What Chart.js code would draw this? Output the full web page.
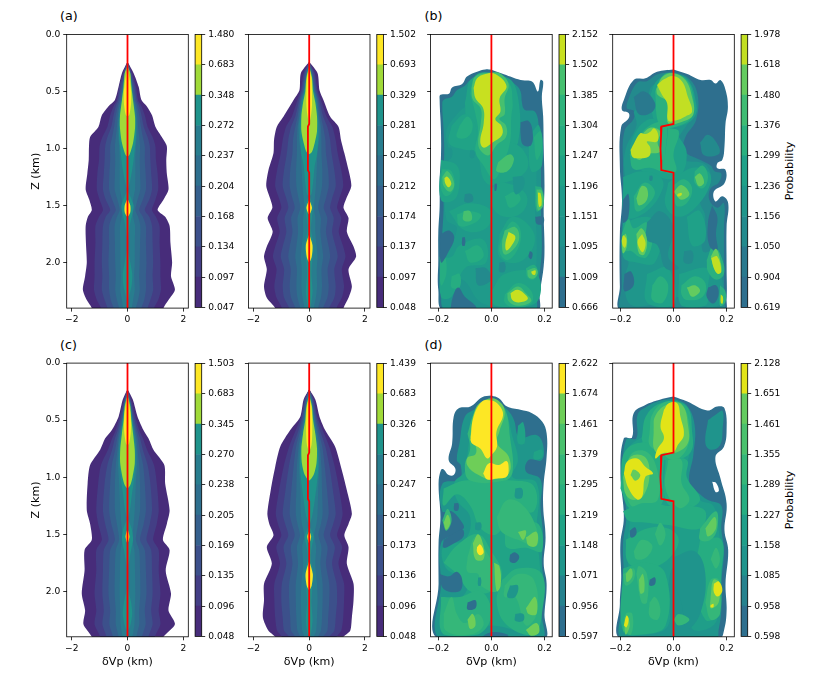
<!DOCTYPE html>
<html><head><meta charset="utf-8">
<script src="https://cdn.jsdelivr.net/npm/chart.js@4"></script>
<style>
html,body{margin:0;padding:0;background:#fff;width:830px;height:692px;overflow:hidden}
canvas{position:absolute}
.t{position:absolute;font-family:"DejaVu Sans";color:#000;white-space:nowrap;line-height:1}
</style></head><body>
<div class="t" style="left:60px;top:9.5px;font-size:12.7px">(a)</div>
<div class="t" style="left:424.5px;top:9.5px;font-size:12.7px">(b)</div>
<div class="t" style="left:60px;top:338.5px;font-size:12.7px">(c)</div>
<div class="t" style="left:424.5px;top:338.5px;font-size:12.7px">(d)</div>
<div class="t" style="left:790px;top:171px;font-size:11.1px;transform:translate(-50%,-50%) rotate(-90deg)">Probability</div>
<div class="t" style="left:790px;top:499.5px;font-size:11.1px;transform:translate(-50%,-50%) rotate(-90deg)">Probability</div>
<script>
// ---------- tick labels ----------
const zTicks=[0,0.5,1,1.5,2];
const xTicksWide=[-2,0,2];
const xTicksNarrow=[-0.2,0,0.2];
const cbA1=['0.047','0.097','0.134','0.168','0.204','0.237','0.272','0.348','0.683','1.480'];
const cbA2=['0.048','0.097','0.137','0.174','0.212','0.245','0.281','0.329','0.693','1.502'];
const cbB1=['0.666','1.009','1.095','1.151','1.196','1.247','1.304','1.385','1.502','2.152'];
const cbB2=['0.619','0.904','1.050','1.156','1.236','1.299','1.376','1.480','1.618','1.978'];
const cbC1=['0.048','0.096','0.135','0.169','0.205','0.238','0.270','0.345','0.683','1.503'];
const cbC2=['0.048','0.096','0.136','0.173','0.211','0.247','0.281','0.326','0.683','1.439'];
const cbD1=['0.597','0.956','1.071','1.148','1.219','1.295','1.379','1.461','1.674','2.622'];
const cbD2=['0.598','0.958','1.085','1.158','1.227','1.289','1.355','1.461','1.651','2.128'];
// ---------- band colours, low to high ----------
const colsA=['#472c7a','#433e85','#3c508b','#35608d','#2e6f8e','#287d8e','#1f938b','#a0da39','#fde725'];
const colsB1=['#2e6f8e','#238a8d','#1f948c','#1f9a8a','#20a386','#26ad81','#2fb47c','#46c06f','#c8e020'];
const colsB2=['#2e6f8e','#29798e','#238a8d','#1f968b','#1fa188','#2ab07f','#3fbc73','#63cb5f','#c2df23'];
const colsD1=['#2e6f8e','#26828e','#1f968b','#20a386','#2ab07f','#35b779','#4ac16d','#6ece58','#fde725'];
const colsD2=['#2e6f8e','#26828e','#1f948c','#1f9e89','#26ad81','#35b779','#4ac16d','#63cb5f','#e2e418'];
// ---------- reference models (red lines) ----------
const flatX=[0,0], flatZ=[0,2.4];
const kinkX=[0,0,-0.045,-0.047,-0.049,-0.047,-0.046,0,0];
const kinkZ=[0,0.785,0.808,0.9,1.0,1.1,1.19,1.212,2.4];

// ---------- panel a, left ----------
const a1Z=[.24,.34,.46,.575,.63,.71,.81,.9,.98,1.1,1.22,1.36,1.45,1.54,1.6,1.68,1.83,2.0,2.12,2.24,2.33,2.4];
const a1L=[0,-.2,-.32,-.45,-.68,-.92,-1.04,-1.34,-1.38,-1.39,-1.44,-1.5,-1.37,-1.28,-1.42,-1.5,-1.49,-1.46,-1.52,-1.6,-1.46,-1.28];
const a1R=[0,.22,.4,.5,.69,.88,1.0,1.23,1.41,1.39,1.41,1.47,1.29,1.08,1.35,1.51,1.54,1.6,1.56,1.7,1.47,1.29];
const a1C1=[0,.16,.3,.38,.5,.62,.72,.9,1.0,1.02,1.08,1.1,1.0,.88,1.02,1.15,1.15,1.18,1.18,1.2,1.1,.95];
const a1C2=[0,.13,.25,.33,.42,.5,.58,.72,.8,.82,.85,.88,.78,.62,.78,.88,.9,.92,.9,.92,.82,.72];
const a1C3=[0,.1,.2,.28,.35,.42,.48,.55,.62,.62,.65,.66,.55,.42,.55,.66,.66,.68,.66,.66,.6,.5];
const a1C4=[0,.08,.17,.24,.3,.35,.38,.42,.45,.44,.45,.46,.36,.28,.38,.46,.45,.44,.42,.44,.38,.3];
const a1C5=[0,.06,.14,.22,.27,.31,.33,.33,.3,.28,.28,.27,.2,.17,.2,.27,.26,.26,.24,.26,.2,.16];
const a1TealZ=[[.26,.34,.46,.575,.71,.81,.9,1.0,1.1,1.2,1.3,1.36],[1.36,1.42,1.5,1.55,1.65,1.8],[1.85,2.0,2.1,2.2,2.3,2.35]];
const a1TealW=[[0,.1,.16,.2,.28,.3,.3,.26,.22,.16,.08,0],[0,.1,.22,.2,.1,0],[0,.1,.17,.15,.05,0]];
const a1LimeZ=[[.28,.34,.46,.58,.72,.82,.95,1.05,1.07]];
const a1LimeW=[[0,.1,.14,.2,.27,.27,.2,.08,0]];
const a1GoldZ=[[.3,.38,.5,.6,.7,.72],[1.44,1.5,1.56,1.6]];
const a1GoldW=[[0,.07,.13,.13,.07,0],[0,.1,.1,0]];
// ---------- panel a, right ----------
const a2Z=[.24,.34,.49,.575,.72,.81,.925,1.04,1.19,1.33,1.44,1.52,1.61,1.73,1.86,1.95,2.06,2.21,2.31,2.4];
const a2L=[0,-.3,-.35,-.56,-.92,-1.16,-1.26,-1.28,-1.46,-1.54,-1.4,-1.32,-1.49,-1.31,-1.52,-1.62,-1.52,-1.62,-1.52,-1.22];
const a2R=[0,.3,.37,.51,.75,1.05,1.14,1.26,1.41,1.51,1.33,1.23,1.41,1.35,1.59,1.68,1.41,1.53,1.41,1.23];
const a2C1=[0,.2,.3,.42,.62,.83,.95,1.02,1.15,1.22,1.08,1.0,1.15,1.06,1.22,1.3,1.17,1.25,1.17,.98];
const a2C2=[0,.16,.26,.36,.5,.65,.75,.8,.9,.95,.82,.75,.88,.82,.95,1.02,.9,.95,.9,.72];
const a2C3=[0,.12,.22,.32,.42,.5,.58,.6,.68,.7,.6,.52,.65,.6,.7,.75,.66,.7,.65,.5];
const a2C4=[0,.09,.19,.29,.36,.42,.44,.44,.47,.46,.38,.32,.42,.4,.46,.5,.44,.46,.42,.32];
const a2C5=[0,.06,.17,.26,.33,.38,.36,.3,.27,.24,.2,.17,.22,.22,.27,.3,.27,.28,.24,.17];
const a2TealZ=[[.27,.36,.5,.6,.75,.9,1.05,1.15,1.3,1.4,1.42],[1.4,1.5,1.6,1.7,1.8,1.9,2.0,2.1,2.25,2.38,2.4]];
const a2TealW=[[0,.1,.17,.25,.31,.33,.28,.2,.14,.08,0],[0,.12,.1,.06,.12,.15,.1,.08,.12,.06,0]];
const a2LimeZ=[[.28,.38,.5,.6,.72,.85,.95,1.03,1.05]];
const a2LimeW=[[0,.1,.14,.22,.28,.28,.2,.1,0]];
const a2GoldZ=[[.29,.38,.5,.62,.7,.78],[1.45,1.52,1.58],[1.75,1.85,1.95,2.0]];
const a2GoldW=[[0,.08,.1,.1,.07,0],[0,.1,0],[0,.12,.09,0]];
// ---------- panel c, left ----------
const c1Z=[.23,.32,.47,.587,.66,.76,.894,1.056,1.29,1.41,1.55,1.64,1.82,2.02,2.17,2.29,2.4];
const c1L=[0,-.17,-.32,-.56,-.8,-.98,-1.34,-1.43,-1.46,-1.34,-1.28,-1.54,-1.54,-1.64,-1.52,-1.58,-1.28];
const c1R=[0,.19,.36,.57,.75,.93,1.32,1.35,1.51,1.41,1.27,1.51,1.37,1.56,1.47,1.7,1.29];
const c1C1=[0,.13,.28,.42,.55,.7,.95,1.05,1.12,1.05,.92,1.12,1.12,1.18,1.12,1.18,.98];
const c1C2=[0,.1,.23,.35,.45,.55,.72,.82,.88,.8,.68,.85,.88,.9,.85,.9,.75];
const c1C3=[0,.08,.19,.3,.37,.44,.56,.62,.66,.58,.45,.62,.66,.68,.62,.65,.52];
const c1C4=[0,.06,.16,.26,.32,.36,.42,.45,.45,.38,.3,.42,.45,.46,.42,.42,.32];
const c1C5=[0,.05,.14,.23,.28,.32,.34,.3,.26,.22,.17,.25,.27,.28,.26,.25,.18];
const c1TealZ=[[.26,.35,.47,.6,.76,.9,1.05,1.15,1.3,1.36],[1.36,1.45,1.55,1.65,1.8],[1.95,2.1,2.2,2.3,2.35]];
const c1TealW=[[0,.1,.16,.22,.28,.28,.22,.16,.08,0],[0,.15,.2,.12,0],[0,.13,.17,.1,0]];
const c1LimeZ=[[.28,.38,.5,.62,.76,.88,1.0,1.07,1.1]];
const c1LimeW=[[0,.1,.14,.2,.26,.26,.18,.1,0]];
const c1GoldZ=[[.28,.36,.48,.6,.7,.72],[1.45,1.52,1.58]];
const c1GoldW=[[0,.06,.12,.12,.06,0],[0,.07,0]];
// ---------- panel c, right ----------
const c2Z=[.23,.32,.47,.587,.733,.91,1.114,1.32,1.41,1.51,1.613,1.76,1.935,2.08,2.23,2.346,2.4];
const c2L=[0,-.2,-.32,-.68,-1.04,-1.22,-1.38,-1.5,-1.43,-1.28,-1.52,-1.34,-1.62,-1.62,-1.66,-1.46,-1.22];
const c2R=[0,.22,.37,.57,.93,1.14,1.35,1.53,1.41,1.26,1.41,1.35,1.59,1.59,1.53,1.47,1.23];
const c2C1=[0,.17,.29,.48,.72,.92,1.08,1.2,1.12,1.0,1.18,1.05,1.25,1.25,1.22,1.15,.98];
const c2C2=[0,.14,.25,.38,.58,.73,.85,.95,.86,.75,.92,.82,.98,1.0,.95,.9,.72];
const c2C3=[0,.11,.21,.32,.47,.56,.64,.7,.62,.52,.66,.6,.72,.72,.68,.65,.5];
const c2C4=[0,.09,.18,.27,.38,.44,.46,.48,.42,.33,.44,.4,.48,.48,.46,.42,.32];
const c2C5=[0,.07,.16,.24,.33,.36,.32,.3,.26,.18,.25,.22,.28,.3,.28,.25,.17];
const c2TealZ=[[.26,.36,.5,.62,.75,.9,1.05,1.2,1.35,1.42],[1.42,1.52,1.6,1.7,1.85,2.0,2.1,2.25,2.38,2.4]];
const c2TealW=[[0,.1,.16,.22,.3,.33,.28,.2,.1,0],[0,.16,.1,.06,.14,.1,.08,.12,.06,0]];
const c2LimeZ=[[.28,.38,.5,.62,.75,.88,.98,1.03]];
const c2LimeW=[[0,.1,.14,.22,.28,.26,.16,0]];
const c2GoldZ=[[.29,.38,.5,.62,.72,.77],[1.47,1.52,1.58],[1.73,1.85,1.95,1.99]];
const c2GoldW=[[0,.08,.11,.11,.08,0],[0,.07,0],[0,.13,.09,0]];

// ---------- panel b, left: contour outlines as [dVp, Z] ----------
const b1Outer=[[0,.31],[.047,.35],[.11,.40],[.154,.415],[.175,.50],[.185,.40],[.195,.415],[.19,.545],[.195,.72],[.197,.985],[.2,1.33],[.197,1.57],[.2,1.86],[.197,2.03],[.182,2.27],[.172,2.42],[-.18,2.42],[-.2,2.24],[-.2,1.98],[-.2,1.74],[-.195,1.51],[-.195,1.276],[-.19,1.07],[-.19,.84],[-.195,.575],[-.192,.53],[-.16,.52],[-.148,.465],[-.11,.435],[-.092,.37],[-.054,.327],[-.023,.307]];
const b1Base=[[[0,.33],[.045,.37],[.09,.44],[.11,.50],[.115,.6],[.125,.66],[.165,.68],[.18,.85],[.185,1.0],[.187,1.33],[.187,1.55],[.19,1.86],[.185,2.03],[.17,2.26],[.16,2.42],[-.17,2.42],[-.19,2.24],[-.19,1.98],[-.185,1.75],[-.18,1.5],[-.185,1.28],[-.178,1.07],[-.18,.84],[-.185,.6],[-.178,.57],[-.15,.55],[-.13,.49],[-.1,.45],[-.08,.4],[-.04,.36]]];
const b1Holes=[[[.11,.77],[.14,.76],[.155,.85],[.15,.97],[.12,.97],[.11,.88]],[[-.11,1.78],[-.1,1.78],[-.1,1.85],[-.11,1.85]],[[-.155,2.42],[-.145,2.3],[-.125,2.22],[-.1,2.3],[-.06,2.38],[-.06,2.42]],[[-.19,1.75],[-.16,1.72],[-.14,1.78],[-.16,1.9],[-.19,2.0]],[[.165,1.6],[.195,1.6],[.195,1.66],[.17,1.66]],[[.145,1.9],[.155,1.92],[.15,1.97],[.14,1.95]],[[.012,1.31],[.02,1.31],[.018,1.37],[.012,1.37]]];
const b1Mid=[[[-.09,.62],[-.05,.5],[0,.37],[.06,.42],[.09,.55],[.09,.75],[.1,.98],[.16,1.0],[.17,1.3],[.165,1.55],[.17,1.75],[.17,2.0],[.16,2.25],[.14,2.35],[.05,2.38],[-.04,2.35],[-.11,2.15],[-.17,2.2],[-.18,2.0],[-.13,1.7],[-.17,1.62],[-.17,1.3],[-.16,1.05],[-.17,.85],[-.13,.7]]];
const b1Lev4=[[[-.1,.6],[-.07,.38],[.06,.38],[.1,.55],[.1,.95],[.06,1.0],[-.08,1.0]],[[-.15,.8],[-.1,.7],[-.06,.8],[-.07,1.0],[-.12,1.0],[-.16,.95]],[[-.05,1.05],[.07,.95],[.13,1.05],[.13,1.2],[.05,1.3],[-.02,1.3]],[[-.19,1.1],[-.13,1.15],[-.12,1.3],[-.14,1.45],[-.19,1.45]],[[-.16,1.55],[-.08,1.48],[0,1.55],[-.02,1.7],[-.1,1.72]],[[0,1.35],[.05,1.3],[.13,1.4],[.12,1.55],[.05,1.6],[0,1.5]],[[.03,1.75],[.08,1.6],[.15,1.7],[.16,1.85],[.1,2.0],[.03,1.95]],[[-.19,1.95],[-.15,1.95],[-.12,1.85],[-.03,1.8],[-.02,2.0],[-.1,2.05],[-.15,2.3],[-.19,2.3]],[[0,2.25],[.05,2.1],[.17,2.1],[.17,2.35],[.05,2.39],[0,2.35]],[[.14,.9],[.18,.8],[.19,1.15],[.15,1.2]]];
const b1Spots=[[[-.17,1.0],[-.15,1.0],[-.15,1.08],[-.17,1.1]],[[-.08,1.02],[-.065,1.02],[-.065,1.08],[-.08,1.08]],[[.08,1.25],[.12,1.25],[.12,1.35],[.09,1.4]]];
const b1Dips=[[[-.1,1.40],[-.075,1.40],[-.07,1.46],[-.1,1.47]],[[-.06,2.05],[-.02,2.05],[0,2.15],[-.05,2.2]],[[.03,2.0],[.05,2.0],[.05,2.08],[.03,2.08]]];
const b1Warm=[[[-.08,.52],[-.06,.36],[0,.34],[.065,.42],[.08,.6],[.075,.72],[.07,.95],[.04,1.15],[.01,1.27],[-.03,1.15],[-.06,1.03],[-.05,.85],[-.06,.7]],[[-.12,.8],[-.09,.72],[-.07,.8],[-.09,.9],[-.13,.9]],[[-.13,1.58],[-.09,1.55],[-.04,1.58],[-.06,1.65],[-.12,1.68]],[[-.185,1.18],[-.15,1.2],[-.14,1.35],[-.17,1.42],[-.19,1.35]],[[.16,.9],[.185,.85],[.19,1.0],[.17,1.1]],[[.05,1.72],[.08,1.64],[.11,1.72],[.1,1.88],[.06,1.98],[.03,1.9]],[[.165,1.33],[.19,1.35],[.195,1.5],[.17,1.55]],[[.05,2.28],[.1,2.18],[.15,2.25],[.15,2.36],[.08,2.39],[.05,2.35]],[[-.195,1.95],[-.175,1.95],[-.17,2.1],[-.19,2.2]],[[.13,2.05],[.16,2.02],[.175,2.08],[.16,2.15],[.135,2.13]],[[-.1,1.9],[-.05,1.85],[-.03,1.95],[-.08,2.0]],[[-.15,2.12],[-.12,2.1],[-.12,2.22],[-.15,2.22]],[[.05,1.42],[.09,1.38],[.11,1.45],[.07,1.52]]];
const b1Hot=[[[-.075,.47],[-.06,.37],[0,.335],[.035,.345],[.065,.44],[.05,.56],[.05,.7],[.03,.74],[.055,.8],[.055,.9],[.02,.97],[-.01,1.06],[-.04,1.02],[-.05,.95],[-.04,.78],[-.04,.65],[-.07,.57]],[[.025,1.12],[.07,1.05],[.085,1.1],[.06,1.2],[.02,1.2]],[[.05,1.72],[.09,1.69],[.105,1.78],[.085,1.88],[.05,1.93],[.04,1.84]],[[.06,2.27],[.1,2.21],[.13,2.27],[.15,2.34],[.1,2.38],[.065,2.34]],[[-.185,1.25],[-.165,1.2],[-.14,1.31],[-.155,1.38],[-.18,1.33]],[[.17,1.36],[.19,1.37],[.195,1.5],[.175,1.54]],[[.135,2.07],[.165,2.05],[.175,2.09],[.16,2.14],[.14,2.13]],[[-.105,1.55],[-.08,1.55],[-.075,1.63],[-.105,1.63]]];
const b1Peak=[[[-.067,.47],[-.054,.385],[-.023,.347],[.015,.347],[.057,.453],[.031,.56],[.034,.677],[.015,.745],[.038,.803],[.04,.882],[.003,.949],[-.029,.993],[-.042,.94],[-.029,.78],[-.031,.648],[-.06,.56]],[[-.177,1.26],[-.167,1.247],[-.151,1.305],[-.161,1.34],[-.174,1.305]],[[.175,1.387],[.185,1.393],[.189,1.495],[.179,1.51]],[[.065,1.73],[.09,1.772],[.078,1.845],[.057,1.895],[.053,1.83]],[[.072,2.27],[.097,2.24],[.122,2.27],[.137,2.32],[.103,2.35],[.078,2.327]],[[.15,2.08],[.166,2.07],[.164,2.108],[.153,2.1]]];
// ---------- panel b, right ----------
const b2Outer=[[0,.307],[.052,.347],[.102,.4],[.14,.4],[.158,.43],[.177,.4],[.196,.487],[.205,.634],[.196,.78],[.192,.984],[.184,1.1],[.165,1.13],[.165,1.174],[.196,1.188],[.192,1.305],[.152,1.378],[.158,1.466],[.184,1.42],[.206,1.48],[.2,1.685],[.2,2.035],[.2,2.327],[.192,2.42],[-.197,2.42],[-.202,2.21],[-.202,1.743],[-.194,1.45],[-.202,1.16],[-.197,.81],[-.169,.736],[-.169,.69],[-.194,.663],[-.187,.575],[-.15,.4],[-.106,.385],[-.062,.327]];
const b2Base=[[[0,.33],[.055,.38],[.09,.52],[.085,.75],[.045,.9],[.04,1.02],[.1,1.1],[.14,1.15],[.155,1.2],[.18,1.22],[.17,1.3],[.14,1.35],[.135,1.45],[.165,1.52],[.19,1.48],[.19,1.7],[.19,2.03],[.19,2.3],[.185,2.42],[-.19,2.42],[-.195,2.2],[-.195,1.74],[-.185,1.45],[-.19,1.16],[-.185,.85],[-.15,.74],[-.15,.67],[-.175,.65],[-.17,.57],[-.135,.42],[-.1,.41],[-.06,.35]],[[.1,.95],[.13,.88],[.17,.98],[.17,1.05],[.115,1.06]]];
const b2Holes=[[[.145,1.5],[.165,1.6],[.16,1.75],[.165,1.9],[.135,1.85],[.13,1.65]],[[.13,2.22],[.16,2.2],[.17,2.28],[.15,2.36],[.125,2.3]],[[-.185,2.1],[-.16,2.08],[-.15,2.2],[-.185,2.25]],[[-.19,1.45],[-.17,1.4],[-.17,1.6],[-.19,1.65]]];
const b2Mid=[[[-.15,.68],[-.1,.55],[-.08,.45],[0,.36],[.05,.42],[.075,.6],[.06,.75],[.02,.9],[0,1.0],[.03,1.1],[.12,1.14],[.14,1.3],[.1,1.45],[.12,1.6],[.11,1.9],[.17,1.9],[.18,2.1],[.19,2.3],[.17,2.38],[.1,2.38],[0,2.3],[-.1,2.38],[-.17,2.35],[-.18,2.1],[-.17,2.0],[-.19,1.8],[-.17,1.6],[-.15,1.45],[-.17,1.35],[-.185,1.2],[-.18,1.0],[-.14,.8]]];
const b2Lev4=[[[-.09,.55],[-.06,.4],[0,.35],[.055,.4],[.085,.6],[.08,.72],[.03,.8],[-.06,.8]],[[-.16,1.15],[-.16,.95],[-.1,.75],[-.03,.78],[.02,.9],[.05,1.05],[.02,1.25],[-.06,1.25]],[[-.19,1.25],[-.12,1.2],[-.05,1.25],[-.04,1.35],[-.1,1.55],[-.18,1.6]],[[-.02,1.3],[.07,1.17],[.13,1.2],[.14,1.3],[.09,1.5],[.02,1.6],[-.03,1.5]],[[.05,1.6],[.1,1.55],[.12,1.8],[.07,1.85]],[[-.19,1.65],[-.1,1.6],[-.05,1.7],[-.07,2.0],[-.14,2.0],[-.19,1.95]],[[-.1,2.1],[-.02,2.05],[0,2.38],[-.1,2.35]],[[.02,2.1],[.13,2.05],[.13,2.2],[.12,2.38],[.03,2.38]]];
const b2Spots=[[[-.09,1.24],[-.08,1.24],[-.08,1.28],[-.09,1.28]],[[.04,1.9],[.07,1.9],[.07,2.0],[.04,2.0]],[[-.1,1.65],[-.05,1.55],[0,1.7],[-.02,1.95],[.02,2.05],[-.03,2.05],[-.06,1.85],[-.1,1.8]]];
const b2Dips=[[[-.15,.55],[-.11,.5],[-.07,.6],[-.08,.68],[-.13,.7]]];
const b2Warm=[[[-.07,.5],[-.04,.36],[0,.34],[.05,.4],[.075,.55],[.07,.72],[.02,.8],[-.05,.8]],[[-.165,1.05],[-.14,.93],[-.09,.8],[-.03,.78],[-.03,1.05],[-.03,1.2],[-.09,1.17],[-.15,1.18]],[[-.02,.82],[.02,.85],[0,1.05],[.01,1.2],[-.03,1.2]],[[.08,1.2],[.11,1.15],[.13,1.25],[.11,1.35],[.08,1.3]],[[-.15,1.42],[-.11,1.3],[-.07,1.38],[-.1,1.5],[-.14,1.55]],[[0,1.32],[.04,1.27],[.07,1.35],[.05,1.48],[.01,1.5]],[[-.195,1.75],[-.17,1.62],[-.15,1.7],[-.1,1.65],[-.08,1.8],[-.1,1.95],[-.13,1.95],[-.16,1.9],[-.19,1.9]],[[.125,1.98],[.15,1.85],[.18,1.95],[.19,2.1],[.16,2.15],[.13,2.08]],[[-.08,2.2],[-.05,2.12],[-.02,2.2],[-.04,2.35],[-.08,2.33]],[[.03,2.2],[.08,2.12],[.12,2.18],[.11,2.3],[.05,2.33],[.03,2.28]],[[.175,2.2],[.195,2.25],[.195,2.35],[.175,2.38]]];
const b2Hot=[[[-.065,.48],[-.04,.37],[0,.34],[.045,.4],[.07,.55],[.075,.7],[.04,.76],[-.02,.78],[-.02,.6],[-.06,.53]],[[-.16,1.02],[-.13,.92],[-.09,.82],[-.05,.85],[-.06,.95],[-.05,1.03],[-.1,1.05],[-.13,1.1]],[[-.14,1.44],[-.12,1.33],[-.1,1.35],[-.1,1.45],[-.13,1.5]],[[0,1.38],[.03,1.32],[.06,1.4],[.03,1.45]],[[.08,1.25],[.1,1.22],[.115,1.3],[.095,1.33]],[[-.14,1.75],[-.12,1.7],[-.1,1.8],[-.11,1.93],[-.13,1.92]],[[.14,1.95],[.16,1.88],[.175,1.97],[.18,2.08],[.16,2.08]],[[-.195,1.8],[-.18,1.75],[-.175,1.85],[-.19,1.92]],[[.05,2.22],[.08,2.2],[.1,2.25],[.07,2.3]]];
const b2Peak=[[[-.062,.444],[-.036,.394],[0,.365],[.033,.415],[.054,.546],[.07,.677],[.045,.72],[.008,.756],[-.02,.756],[-.024,.604],[-.043,.531]],[[-.162,1.013],[-.15,.96],[-.125,.867],[-.106,.873],[-.087,.853],[-.074,.823],[-.059,.867],[-.062,.94],[-.1,.94],[-.087,.998],[-.093,1.07],[-.143,1.086],[-.156,1.07]],[[.015,1.4],[.03,1.39],[.03,1.41],[.015,1.42]],[[-.118,1.75],[-.105,1.83],[-.115,1.91],[-.128,1.88],[-.135,1.81]],[[-.187,1.76],[-.177,1.8],[-.183,1.87],[-.193,1.84],[-.193,1.78]],[[.142,1.96],[.165,1.947],[.18,2.08],[.167,2.1],[.152,2.05]],[[.178,2.28],[.186,2.3],[.185,2.36],[.178,2.35]]];
// ---------- panel d, left ----------
const d1Outer=[[0,.284],[.028,.308],[.059,.381],[.109,.41],[.153,.44],[.191,.513],[.208,.616],[.208,.821],[.197,1.056],[.195,1.26],[.204,1.525],[.197,1.76],[.208,1.935],[.2,2.2],[.197,2.42],[-.199,2.42],[-.199,1.935],[-.199,1.58],[-.192,1.35],[-.199,1.056],[-.19,.938],[-.18,.932],[-.161,.982],[-.142,.982],[-.136,.924],[-.161,.85],[-.148,.704],[-.142,.469],[-.123,.396],[-.079,.381],[-.035,.299]];
const d1Base=[[[0,.31],[.06,.41],[.085,.5],[.105,.65],[.17,.63],[.195,.72],[.19,.85],[.14,.85],[.13,.95],[.185,1.02],[.185,1.26],[.195,1.52],[.19,1.76],[.198,1.93],[.19,2.2],[.187,2.42],[-.19,2.42],[-.19,1.93],[-.19,1.58],[-.14,1.5],[-.105,1.45],[-.11,1.4],[-.15,1.3],[-.185,1.3],[-.185,1.06],[-.12,1.02],[-.115,.9],[-.13,.85],[-.12,.7],[-.1,.47],[-.06,.4]]];
const d1Holes=[[[-.195,1.85],[-.16,1.87],[-.13,1.83],[-.11,1.9],[-.12,2.0],[-.18,1.98]],[[.07,1.68],[.09,1.66],[.105,1.7],[.09,1.75],[.07,1.74]],[[-.09,2.1],[-.06,2.08],[-.06,2.15],[-.09,2.16]],[[-.05,2.42],[0,2.36],[.06,2.38],[.06,2.42]],[[-.14,1.23],[-.125,1.23],[-.125,1.29],[-.14,1.29]],[[-.18,1.55],[-.11,1.46],[-.105,1.52],[-.14,1.58],[-.18,1.62]]];
const d1Mid=[[[-.08,.6],[-.05,.4],[0,.33],[.05,.42],[.08,.65],[.1,.85],[.08,1.0],[.17,1.05],[.17,1.5],[.18,1.7],[.185,1.95],[.175,2.2],[.17,2.38],[0,2.3],[-.17,2.38],[-.18,2.1],[-.11,2.05],[-.09,1.9],[-.17,1.8],[-.18,1.6],[-.1,1.55],[-.08,1.35],[-.13,1.2],[-.14,1.05],[-.1,.95],[-.09,.8]],[[.16,.78],[.19,.76],[.19,.83],[.16,.84]],[[.1,.55],[.12,.52],[.125,.7],[.1,.7]]];
const d1Lev4=[[[-.18,1.1],[-.1,1.03],[.08,1.03],[.16,1.08],[.16,1.3],[.08,1.3],[.02,1.5],[-.04,1.45],[-.08,1.25],[-.13,1.15],[-.18,1.25]],[[-.18,1.75],[-.13,1.6],[-.05,1.5],[0,1.65],[.04,1.85],[0,2.0],[-.08,2.0],[-.13,1.85]],[[.05,1.5],[.17,1.4],[.19,1.65],[.13,1.62],[.06,1.62]],[[.04,1.9],[.1,1.8],[.19,1.85],[.19,2.2],[.16,2.38],[.06,2.3],[.02,2.1]],[[-.19,2.05],[-.12,2.05],[-.04,2.0],[0,2.2],[-.05,2.38],[-.18,2.38]]];
const d1Spots=[[[.09,1.1],[.115,1.1],[.115,1.18],[.09,1.18]],[[-.05,1.88],[-.04,1.88],[-.04,1.95],[-.05,1.95]],[[.07,1.95],[.1,1.95],[.09,2.05],[.06,2.05]],[[-.06,1.4],[-.04,1.4],[-.04,1.46],[-.06,1.46]],[[.09,2.2],[.12,2.2],[.12,2.26],[.09,2.26]]];
const d1Dips=[];
const d1Warm=[[[-.09,.62],[-.06,.42],[0,.32],[.05,.4],[.07,.65],[.08,.95],[.05,1.03],[-.08,1.03],[-.1,.9],[-.08,.75]],[[-.185,1.38],[-.165,1.28],[-.15,1.38],[-.17,1.47]],[[-.09,1.7],[-.06,1.52],[-.02,1.65],[.01,1.8],[.02,2.0],[-.04,1.95],[-.05,1.85],[-.09,1.83]],[[.02,1.35],[.06,1.2],[.12,1.25],[.17,1.45],[.17,1.6],[.1,1.55],[.05,1.5],[.03,1.45]],[[.05,1.95],[.1,1.85],[.16,1.9],[.17,2.2],[.13,2.3],[.09,2.05],[.05,2.05]],[[-.18,2.2],[-.15,2.05],[-.13,2.2],[-.1,2.28],[-.05,2.2],[-.03,2.3],[-.08,2.38],[-.17,2.35]]];
const d1Hot=[[[-.08,.65],[-.06,.4],[-.02,.32],[.02,.32],[.05,.42],[.03,.6],[.02,.7],[.065,.82],[.065,.97],[0,1.02],[-.05,.98],[-.09,.9],[-.09,.83],[-.06,.8],[-.06,.72]],[[.01,1.75],[.03,1.78],[.035,1.95],[.02,2.0]],[[-.07,1.58],[-.05,1.5],[-.03,1.6],[-.03,1.72],[-.06,1.72]],[[.13,1.53],[.17,1.48],[.17,1.6],[.14,1.6]],[[.13,2.15],[.165,2.05],[.17,2.2],[.14,2.2]],[[-.09,2.25],[-.07,2.2],[-.06,2.3],[-.08,2.33]],[[.13,2.34],[.17,2.28],[.18,2.36],[.15,2.39]],[[-.18,1.4],[-.165,1.33],[-.155,1.4],[-.17,1.46]],[[.1,1.48],[.13,1.47],[.12,1.55]]];
const d1Peak=[[[-.079,.674],[-.067,.469],[-.035,.337],[0,.328],[.028,.367],[.044,.455],[.019,.601],[.021,.733],[0,.806],[-.016,.836],[-.042,.748],[-.073,.704]],[[-.031,.968],[-.01,.88],[.028,.894],[.057,.859],[.065,.924],[.057,.997],[.021,1.012],[-.016,1.02]],[[-.054,1.613],[-.042,1.59],[-.029,1.657],[-.042,1.686],[-.054,1.657]]];
// ---------- panel d, right ----------
const d2Outer=[[0,.293],[.052,.337],[.127,.416],[.165,.381],[.192,.396],[.2,.587],[.19,.733],[.158,.821],[.177,1.012],[.2,1.232],[.192,1.466],[.206,1.642],[.196,1.935],[.2,2.17],[.19,2.346],[.171,2.42],[-.197,2.42],[-.202,2.11],[-.197,1.877],[-.2,1.584],[-.187,1.349],[-.2,.968],[-.187,.66],[-.156,.651],[-.15,.44],[-.106,.367],[-.055,.323]];
const d2Base=[[[0,.31],[.05,.37],[.08,.55],[.075,.8],[.06,1.05],[.1,1.15],[.13,1.2],[.18,1.25],[.18,1.45],[.19,1.64],[.18,1.93],[.18,2.17],[.17,2.34],[.16,2.42],[-.19,2.42],[-.19,2.1],[-.187,1.88],[-.19,1.58],[-.178,1.35],[-.19,.97],[-.178,.67],[-.14,.66],[-.135,.45],[-.1,.38],[-.05,.33]],[[.13,.5],[.16,.45],[.185,.42],[.185,.58],[.175,.72],[.14,.76],[.12,.7]]];
const d2Holes=[[[-.165,1.47],[-.145,1.44],[-.14,1.5],[-.16,1.53]],[[-.09,1.9],[-.07,1.88],[-.07,1.94],[-.09,1.95]]];
const d2Mid=[[[-.1,.62],[-.08,.42],[0,.33],[.04,.4],[.07,.6],[.06,.8],[.04,1.0],[.1,1.2],[.15,1.25],[.17,1.45],[.175,1.65],[.17,1.9],[.17,2.15],[.15,2.3],[.07,2.33],[.06,2.05],[0,1.8],[-.02,2.0],[-.02,2.3],[-.1,2.38],[-.18,2.35],[-.19,2.1],[-.17,1.9],[-.175,1.6],[-.165,1.38],[-.18,1.0],[-.17,.75]]];
const d2Lev4=[[[-.12,.66],[-.1,.45],[-.03,.34],[.05,.38],[.07,.6],[.065,.78],[0,.85],[-.1,.8]],[[-.2,1.1],[-.175,.75],[-.05,.73],[-.04,1.0],[-.05,1.25],[-.16,1.28]],[[-.03,.85],[.05,.85],[.05,1.0],[.1,1.2],[.03,1.28],[-.03,1.2]],[[-.19,1.3],[-.1,1.2],[-.03,1.25],[.06,1.25],[.12,1.3],[.1,1.45],[-.02,1.42],[-.1,1.4],[-.17,1.38]],[[-.18,1.55],[-.1,1.45],[-.02,1.45],[.02,1.55],[-.02,1.72],[-.1,1.8],[-.17,1.75]],[[-.19,1.8],[-.1,1.75],[-.03,1.85],[-.03,2.3],[-.12,2.38],[-.19,2.35]],[[.1,1.55],[.18,1.55],[.18,1.85],[.17,2.2],[.12,2.25],[.08,1.9]]];
const d2Spots=[[[.0,1.7],[.08,1.65],[.12,1.85],[.1,2.2],[.05,2.33],[.03,2.1],[0,1.9]]];
const d2Warm=[[[-.09,.6],[-.08,.45],[-.03,.34],[.03,.36],[.06,.55],[.05,.75],[0,.85],[-.05,.78],[-.09,.72]],[[-.19,1.05],[-.16,.8],[-.1,.78],[-.06,.95],[-.06,1.2],[-.12,1.23],[-.16,1.25]],[[-.02,.85],[.03,.85],[.03,1.05],[.06,1.2],[.02,1.27],[-.03,1.1]],[[-.15,1.65],[-.12,1.55],[-.08,1.6],[-.1,1.7],[-.14,1.72]],[[-.07,1.5],[-.05,1.4],[-.03,1.5],[-.05,1.6]],[[.1,1.45],[.16,1.3],[.165,1.45],[.14,1.55],[.1,1.55]],[[.14,1.72],[.16,1.62],[.175,1.72],[.16,1.8]],[[-.14,1.85],[-.13,1.78],[-.1,1.85],[-.1,2.1],[-.12,2.1]],[[-.19,1.85],[-.15,1.8],[-.15,1.9],[-.18,1.95]],[[.12,2.1],[.14,1.9],[.17,1.9],[.175,2.2],[.14,2.25]],[[-.19,2.35],[-.18,2.2],[-.155,2.2],[-.16,2.38]],[[-.09,2.1],[-.07,2.05],[-.05,2.15],[-.06,2.25],[-.09,2.22]],[[0,2.25],[.02,2.2],[.06,2.25],[.02,2.3]]];
const d2Hot=[[[-.075,.58],[-.07,.47],[-.03,.37],[.03,.36],[.055,.55],[.05,.72],[-.02,.8],[-.07,.77]],[[-.19,1.0],[-.16,.82],[-.11,.82],[-.09,.95],[-.11,1.15],[-.15,1.2],[-.18,1.15]],[[.12,1.45],[.155,1.35],[.16,1.45],[.13,1.52]],[[-.13,1.9],[-.115,1.85],[-.11,2.0],[-.125,2.02]],[[.14,2.05],[.15,1.9],[.17,1.92],[.17,2.1],[.14,2.15]],[[-.185,2.3],[-.175,2.22],[-.165,2.3],[-.18,2.38]],[[-.18,1.85],[-.16,1.8],[-.155,1.87],[-.175,1.92]]];
const d2Peak=[[[-.036,.41],[-.018,.352],[.014,.352],[.026,.469],[.039,.63],[.016,.718],[.001,.777],[-.043,.792],[-.068,.836],[-.062,.762],[-.036,.66],[-.049,.557]],[[-.187,.968],[-.175,.865],[-.137,.836],[-.106,.909],[-.077,.968],[-.106,.997],[-.118,1.173],[-.137,1.196],[-.169,1.1]],[[.152,1.935],[.171,1.915],[.184,1.994],[.167,2.047],[.152,2.009]],[[.14,2.12],[.15,2.11],[.15,2.14],[.14,2.14]],[[-.187,2.302],[-.177,2.214],[-.169,2.243],[-.177,2.317]]];
const d2Ring=[[[-.162,.982],[-.15,.933],[-.125,.982],[-.143,1.032]]];
const d2Gaps=[[[.146,1.04],[.16,1.05],[.171,1.12],[.158,1.13]]];

// ---------- helpers that turn the arrays above into outlines ----------
function bandLR(zs,ls,rs){
  const p=[];
  zs.forEach((z,i)=>p.push([ls[i],z]));
  p.push([ls[ls.length-1],2.45],[rs[rs.length-1],2.45]);
  for(let i=zs.length-1;i>=0;i--)p.push([rs[i],zs[i]]);
  return p;
}
function bandW(zs,ws){ return bandLR(zs,ws.map(w=>-w),ws); }
function blobW(zs,ws){
  const p=[];
  zs.forEach((z,i)=>p.push([-ws[i],z]));
  for(let i=zs.length-2;i>=1;i--)p.push([ws[i],zs[i]]);
  return p;
}
function leftLayers(Z,L,R,C,tz,tw,lz,lw,gz,gw){
  const out=[[0,bandLR(Z,L,R),0]];
  C.forEach((w,i)=>out.push([i+1,bandW(Z,w),0]));
  tz.forEach((z,i)=>out.push([6,blobW(z,tw[i]),1]));
  lz.forEach((z,i)=>out.push([7,blobW(z,lw[i]),1]));
  gz.forEach((z,i)=>out.push([8,blobW(z,gw[i]),1]));
  return out;
}
function rightLayers(outer,lists){
  const out=[[0,outer,1]];
  lists.forEach(([lev,blobs])=>blobs.forEach(b=>out.push([lev,b,1])));
  return out;
}
const frame={id:'frame',afterDraw(c){const a=c.chartArea,x=c.ctx;x.save();x.strokeStyle='#000';x.lineWidth=.8;
  x.strokeRect(a.left,a.top,a.right-a.left,a.bottom-a.top);x.restore();}};
const FONT={family:'DejaVu Sans',size:9.1};
const TICKGRID={drawOnChartArea:false,drawTicks:true,tickLength:3.5,tickWidth:.8,tickColor:'#000'};
const minus=s=>s.replace('-','\u2212');
function addCanvas(l,t,w,h){const c=document.createElement('canvas');c.width=w;c.height=h;
  c.style.cssText=`left:${l}px;top:${t}px;width:${w}px;height:${h}px`;document.body.appendChild(c);return c;}

function panel(o){
  const L=Math.floor(o.x-37), T=Math.floor(o.y-10), W=Math.ceil(o.w+37+16), H=Math.ceil(o.h+10+32);
  const padT=o.y-T,padR=W-(o.x-L)-o.w;
  const ds=o.layers.map(([lev,poly,closed],i)=>{
    const pts=(closed?poly.concat([poly[0]]):poly).map(p=>({x:p[0],y:p[1]}));
    const col=lev<0?'#ffffff':o.cols[lev];
    return {data:pts,showLine:true,fill:'shape',backgroundColor:col,borderWidth:0,borderColor:col,
      pointRadius:0,tension:o.tension,order:o.layers.length-i+1};
  });
  ds.push({data:o.redX.map((v,i)=>({x:v,y:o.redZ[i]})),showLine:true,fill:false,borderColor:'#ff0000',borderWidth:1.8,
    pointRadius:0,tension:0,order:0});
  new Chart(addCanvas(L,T,W,H),{type:'scatter',data:{datasets:ds},plugins:[frame],options:{
    responsive:false,animation:false,devicePixelRatio:1,
    layout:{autoPadding:false,padding:{left:0,top:padT,right:padR,bottom:0}},
    plugins:{legend:{display:false},tooltip:{enabled:false}},
    scales:{
      x:{type:'linear',min:-o.xr,max:o.xr,
        afterBuildTicks:s=>{s.ticks=o.xt.map(v=>({value:v}));},
        afterFit:s=>{s.height=H-padT-o.h;},
        grid:TICKGRID,border:{display:false},
        ticks:{font:FONT,color:'#000',padding:3,autoSkip:false,maxRotation:0,minRotation:0,
          callback:v=>minus(o.xr>1?String(v):Number(v).toFixed(1))},
        title:{display:o.xlabel,text:'\u03b4Vp (km)',font:{family:'DejaVu Sans',size:11.1},color:'#000',padding:0}},
      y:{type:'linear',reverse:true,min:0,max:2.4,
        afterBuildTicks:s=>{s.ticks=zTicks.map(v=>({value:v}));},
        afterFit:s=>{s.width=o.x-L;},
        grid:TICKGRID,border:{display:false},
        ticks:{display:o.ylabel,font:FONT,color:'#000',padding:3,autoSkip:false,maxRotation:0,minRotation:0,
          callback:v=>Number(v).toFixed(1)},
        title:{display:o.ylabel,text:'Z (km)',font:{family:'DejaVu Sans',size:11.1},color:'#000',padding:0}}
    }}});
}
function colorbar(o){
  const L=Math.floor(o.x-1), T=Math.floor(o.y-8), W=50, H=Math.ceil(o.h+16);
  const ds=o.cols.map(c=>({data:[1],backgroundColor:c,borderWidth:0,barPercentage:1,categoryPercentage:1}));
  new Chart(addCanvas(L,T,W,H),{type:'bar',data:{labels:['band'],datasets:ds},plugins:[frame],options:{
    responsive:false,animation:false,devicePixelRatio:1,
    layout:{autoPadding:false,padding:{left:o.x-L,top:o.y-T,right:0,bottom:H-(o.y-T)-o.h}},
    plugins:{legend:{display:false},tooltip:{enabled:false}},
    scales:{
      x:{display:false,stacked:true},
      y:{type:'linear',position:'right',stacked:true,min:0,max:9,
        afterBuildTicks:s=>{s.ticks=o.labels.map((_,i)=>({value:i}));},
        afterFit:s=>{s.width=W-(o.x-L)-o.w;},
        grid:TICKGRID,border:{display:false},
        ticks:{font:FONT,color:'#000',padding:3,autoSkip:false,callback:(v,i)=>o.labels[i]}}
    }}});
}
const R1=34.4,R2=363.1,PH=273.7,PW=121.6;
const C1=66.7,C2=248.4,C3=430.6,C4=612.7;
const leftSpec=[
 [C1,R1,a1Z,a1L,a1R,[a1C1,a1C2,a1C3,a1C4,a1C5],a1TealZ,a1TealW,a1LimeZ,a1LimeW,a1GoldZ,a1GoldW,flatX,flatZ,cbA1,1,0],
 [C2,R1,a2Z,a2L,a2R,[a2C1,a2C2,a2C3,a2C4,a2C5],a2TealZ,a2TealW,a2LimeZ,a2LimeW,a2GoldZ,a2GoldW,kinkX,kinkZ,cbA2,0,0],
 [C1,R2,c1Z,c1L,c1R,[c1C1,c1C2,c1C3,c1C4,c1C5],c1TealZ,c1TealW,c1LimeZ,c1LimeW,c1GoldZ,c1GoldW,flatX,flatZ,cbC1,1,1],
 [C2,R2,c2Z,c2L,c2R,[c2C1,c2C2,c2C3,c2C4,c2C5],c2TealZ,c2TealW,c2LimeZ,c2LimeW,c2GoldZ,c2GoldW,kinkX,kinkZ,cbC2,0,1]
];
leftSpec.forEach(s=>{
  panel({x:s[0],y:s[1],w:PW,h:PH,xr:2.18,xt:xTicksWide,cols:colsA,tension:.25,redX:s[12],redZ:s[13],ylabel:!!s[15],xlabel:!!s[16],
    layers:leftLayers(s[2],s[3],s[4],s[5],s[6],s[7],s[8],s[9],s[10],s[11])});
  colorbar({x:s[0]+128.4,y:s[1],w:6.6,h:PH,cols:colsA,labels:s[14]});
});
const rightSpec=[
 [C3,R1,b1Outer,[[2,b1Base],[3,b1Mid],[4,b1Lev4],[5,b1Warm],[0,b1Holes],[2,b1Spots],[1,b1Dips],[7,b1Hot],[8,b1Peak]],colsB1,flatX,flatZ,cbB1,0],
 [C4,R1,b2Outer,[[2,b2Base],[3,b2Mid],[4,b2Lev4],[5,b2Warm],[0,b2Holes],[2,b2Spots],[1,b2Dips],[7,b2Hot],[8,b2Peak]],colsB2,kinkX,kinkZ,cbB2,0],
 [C3,R2,d1Outer,[[2,d1Base],[3,d1Mid],[4,d1Lev4],[5,d1Warm],[0,d1Holes],[2,d1Spots],[1,d1Dips],[7,d1Hot],[8,d1Peak]],colsD1,flatX,flatZ,cbD1,1],
 [C4,R2,d2Outer,[[2,d2Base],[3,d2Mid],[4,d2Lev4],[2,d2Spots],[5,d2Warm],[0,d2Holes],[7,d2Hot],[8,d2Peak],[7,d2Ring],[-1,d2Gaps]],colsD2,kinkX,kinkZ,cbD2,1]
];
rightSpec.forEach(s=>{
  panel({x:s[0],y:s[1],w:PW,h:PH,xr:.229,xt:xTicksNarrow,cols:s[4],tension:.4,redX:s[5],redZ:s[6],ylabel:false,xlabel:!!s[8],
    layers:rightLayers(s[2],s[3])});
  colorbar({x:s[0]+128.4,y:s[1],w:6.6,h:PH,cols:s[4],labels:s[7]});
});
</script></body></html>
